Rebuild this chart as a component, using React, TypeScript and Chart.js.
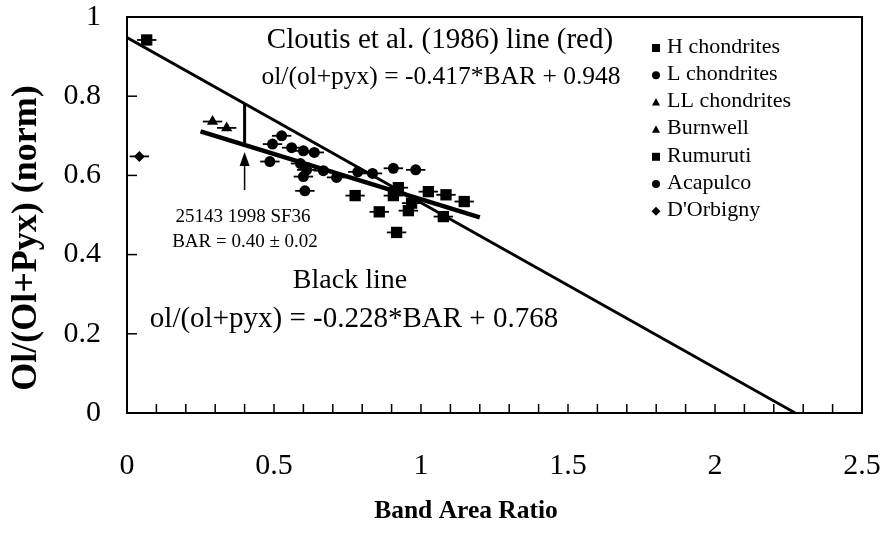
import React, { useEffect, useRef } from "react";
import { Chart, registerables } from "chart.js";

Chart.register(...registerables);

const FONT = "'Liberation Serif', 'Times New Roman', serif";

// ---- data ----
const hX = [0.776, 0.906, 0.923, 0.858, 0.957, 0.968, 1.025, 1.085, 1.147, 1.076, 0.917];
const hY = [0.549, 0.549, 0.569, 0.508, 0.511, 0.530, 0.559, 0.551, 0.534, 0.496, 0.456];
const lX = [0.526, 0.495, 0.560, 0.600, 0.637, 0.611, 0.668, 0.713, 0.605, 0.600, 0.785, 0.835, 0.906, 0.982, 0.590];
const lY = [0.700, 0.679, 0.670, 0.662, 0.658, 0.614, 0.612, 0.595, 0.561, 0.597, 0.609, 0.605, 0.618, 0.614, 0.630];
const llX = [0.291];
const llY = [0.736];
const burnwellX = [0.339];
const burnwellY = [0.720];
const rumurutiX = [0.067];
const rumurutiY = [0.942];
const acapulcoX = [0.486];
const acapulcoY = [0.635];
const dorbignyX = [0.042];
const dorbignyY = [0.648];
const barErr = 0.033;

const cloutisLineX = [0, 2.273];
const cloutisLineY = [0.948, 0];
const blackLineX = [0.25, 1.2];
const blackLineY = [0.711, 0.494];
const markerX = [0.4, 0.4];
const markerY = [0.677, 0.781];
const arrowX = 0.4;
const arrowFromY = 0.563;
const arrowToY = 0.659;

const yTitle = "Ol/(Ol+Pyx) (norm)";
const xTitle = "Band Area Ratio";
const legendNames = ["H chondrites", "L chondrites", "LL chondrites", "Burnwell", "Rumuruti", "Acapulco", "D'Orbigny"];
const legendShapes = ["rect", "circle", "triangle", "triangle", "rect", "circle", "rectRot"];

const pts = (xs: number[], ys: number[]) => xs.map((x, i) => ({ x, y: ys[i] }));

function drawShape(ctx: CanvasRenderingContext2D, shape: string, x: number, y: number, r: number) {
  ctx.beginPath();
  if (shape === "rect") {
    ctx.rect(x - r, y - r, 2 * r, 2 * r);
  } else if (shape === "circle") {
    ctx.arc(x, y, r, 0, Math.PI * 2);
  } else if (shape === "triangle") {
    ctx.moveTo(x, y - r * 1.1);
    ctx.lineTo(x + r, y + r * 0.8);
    ctx.lineTo(x - r, y + r * 0.8);
    ctx.closePath();
  } else {
    ctx.moveTo(x, y - r);
    ctx.lineTo(x + r, y);
    ctx.lineTo(x, y + r);
    ctx.lineTo(x - r, y);
    ctx.closePath();
  }
  ctx.fill();
}

const zeroPad = (s: any) => {
  s.paddingLeft = 0;
  s.paddingRight = 0;
  s.paddingTop = 0;
  s.paddingBottom = 0;
};

const decor = {
  id: "decor",
  beforeDatasetsDraw(chart: any) {
    const { ctx } = chart;
    const xs = chart.scales.x;
    const ys = chart.scales.y;
    ctx.save();
    ctx.strokeStyle = "#000";
    ctx.lineWidth = 1.8;
    chart.data.datasets.forEach((ds: any) => {
      if (!ds.errBars) return;
      ds.data.forEach((p: any) => {
        const y = ys.getPixelForValue(p.y);
        ctx.beginPath();
        ctx.moveTo(xs.getPixelForValue(p.x - barErr), y);
        ctx.lineTo(xs.getPixelForValue(p.x + barErr), y);
        ctx.stroke();
      });
    });
    ctx.restore();
  },
  afterDraw(chart: any) {
    const { ctx, chartArea: a } = chart;
    const xs = chart.scales.x;
    const ys = chart.scales.y;
    ctx.save();
    // frame
    ctx.strokeStyle = "#000";
    ctx.lineWidth = 2;
    ctx.strokeRect(a.left, a.top, a.right - a.left, a.bottom - a.top);
    // inward ticks
    ctx.lineWidth = 1.5;
    xs.ticks.forEach((t: any) => {
      const px = xs.getPixelForValue(t.value);
      ctx.beginPath();
      ctx.moveTo(px, a.bottom);
      ctx.lineTo(px, a.bottom - 9);
      ctx.stroke();
    });
    ys.ticks.forEach((t: any) => {
      const py = ys.getPixelForValue(t.value);
      ctx.beginPath();
      ctx.moveTo(a.left, py);
      ctx.lineTo(a.left + 10, py);
      ctx.stroke();
    });
    // arrow
    const ax = xs.getPixelForValue(arrowX);
    const ay0 = ys.getPixelForValue(arrowFromY);
    const ay1 = ys.getPixelForValue(arrowToY);
    ctx.lineWidth = 1.5;
    ctx.beginPath();
    ctx.moveTo(ax, ay0);
    ctx.lineTo(ax, ay1 + 12);
    ctx.stroke();
    ctx.fillStyle = "#000";
    ctx.beginPath();
    ctx.moveTo(ax, ay1);
    ctx.lineTo(ax + 5, ay1 + 14);
    ctx.lineTo(ax - 5, ay1 + 14);
    ctx.closePath();
    ctx.fill();
    // axis titles
    ctx.fillStyle = "#000";
    ctx.textAlign = "center";
    ctx.textBaseline = "middle";
    ctx.font = `bold 25.5px ${FONT}`;
    ctx.fillText(xTitle, 466, 511);
    ctx.save();
    ctx.translate(27, 238);
    ctx.rotate(-Math.PI / 2);
    ctx.font = `bold 36px ${FONT}`;
    ctx.fillText(yTitle, 0, 0);
    ctx.restore();
    // annotation texts
    ctx.font = `29px ${FONT}`;
    ctx.fillText("Cloutis et al. (1986) line (red)", 440, 40);
    ctx.font = `25.5px ${FONT}`;
    ctx.fillText("ol/(ol+pyx) = -0.417*BAR + 0.948", 441, 77);
    ctx.font = `19px ${FONT}`;
    ctx.fillText("25143 1998 SF36", 243, 217);
    ctx.fillText("BAR = 0.40 \u00B1 0.02", 245, 242);
    ctx.font = `28px ${FONT}`;
    ctx.fillText("Black line", 350, 281);
    ctx.font = `29px ${FONT}`;
    ctx.fillText("ol/(ol+pyx) = -0.228*BAR + 0.768", 354, 319);
    // legend
    ctx.textAlign = "left";
    ctx.font = `22px ${FONT}`;
    legendNames.forEach((name, i) => {
      const y = 47 + i * 27.2;
      const shape = legendShapes[i];
      drawShape(ctx, shape, 656, y + 1, shape === "rectRot" ? 4.5 : 4);
      ctx.fillText(name, 667, y);
    });
    ctx.restore();
  },
};

export default function App() {
  const ref = useRef<HTMLCanvasElement | null>(null);
  useEffect(() => {
    document.body.style.margin = "0";
    const canvas = ref.current;
    if (!canvas) return;
    const black = "#000";
    const scatter = (label: string, xs: number[], ys: number[], style: string, radius: number) => ({
      type: "scatter" as const,
      label,
      data: pts(xs, ys),
      pointStyle: style,
      pointRadius: radius,
      pointBackgroundColor: black,
      pointBorderColor: black,
      pointBorderWidth: 0,
      showLine: false,
      errBars: true,
    });
    const line = (label: string, xs: number[], ys: number[], w: number) => ({
      type: "line" as const,
      label,
      data: pts(xs, ys),
      borderColor: black,
      borderWidth: w,
      pointRadius: 0,
      showLine: true,
      fill: false,
      tension: 0,
    });
    const chart = new Chart(canvas, {
      type: "scatter",
      data: {
        datasets: [
          line("Cloutis", cloutisLineX, cloutisLineY, 2.8),
          line("Black", blackLineX, blackLineY, 4.5),
          line("marker", markerX, markerY, 3),
          scatter("H chondrites", hX, hY, "rect", 8),
          scatter("L chondrites", lX, lY, "circle", 5.5),
          scatter("LL chondrites", llX, llY, "triangle", 6.5),
          scatter("Burnwell", burnwellX, burnwellY, "triangle", 6.5),
          scatter("Rumuruti", rumurutiX, rumurutiY, "rect", 8),
          scatter("Acapulco", acapulcoX, acapulcoY, "circle", 5.5),
          scatter("D'Orbigny", dorbignyX, dorbignyY, "rectRot", 5.5),
        ] as any,
      },
      options: {
        animation: false,
        responsive: false,
        layout: { padding: { top: 17, right: 19, left: 0, bottom: 0 } },
        plugins: { legend: { display: false }, tooltip: { enabled: false } },
        scales: {
          x: {
            type: "linear",
            min: 0,
            max: 2.5,
            afterFit: (s: any) => {
              s.height = 123;
              zeroPad(s);
            },
            grid: { display: false, drawTicks: false },
            border: { display: false },
            ticks: {
              stepSize: 0.1,
              autoSkip: false,
              maxRotation: 0,
              padding: 35,
              color: black,
              font: { family: FONT, size: 30 },
              callback: (v: any) => {
                const n = Number(v);
                return Math.abs(n * 2 - Math.round(n * 2)) < 1e-6 ? String(Number(n.toFixed(1))) : "";
              },
            },
            title: { display: false },
          },
          y: {
            type: "linear",
            min: 0,
            max: 1,
            afterFit: (s: any) => {
              s.width = 127;
              zeroPad(s);
            },
            grid: { display: false, drawTicks: false },
            border: { display: false },
            ticks: {
              stepSize: 0.2,
              padding: 26,
              color: black,
              font: { family: FONT, size: 30 },
              callback: (v: any) => String(Number(Number(v).toFixed(1))),
            },
            title: { display: false },
          },
        },
      } as any,
      plugins: [decor],
    });
    return () => chart.destroy();
  }, []);
  return (
    <div style={{ width: 881, height: 536, position: "relative", background: "#fff" }}>
      <canvas ref={ref} width={881} height={536} />
    </div>
  );
}
